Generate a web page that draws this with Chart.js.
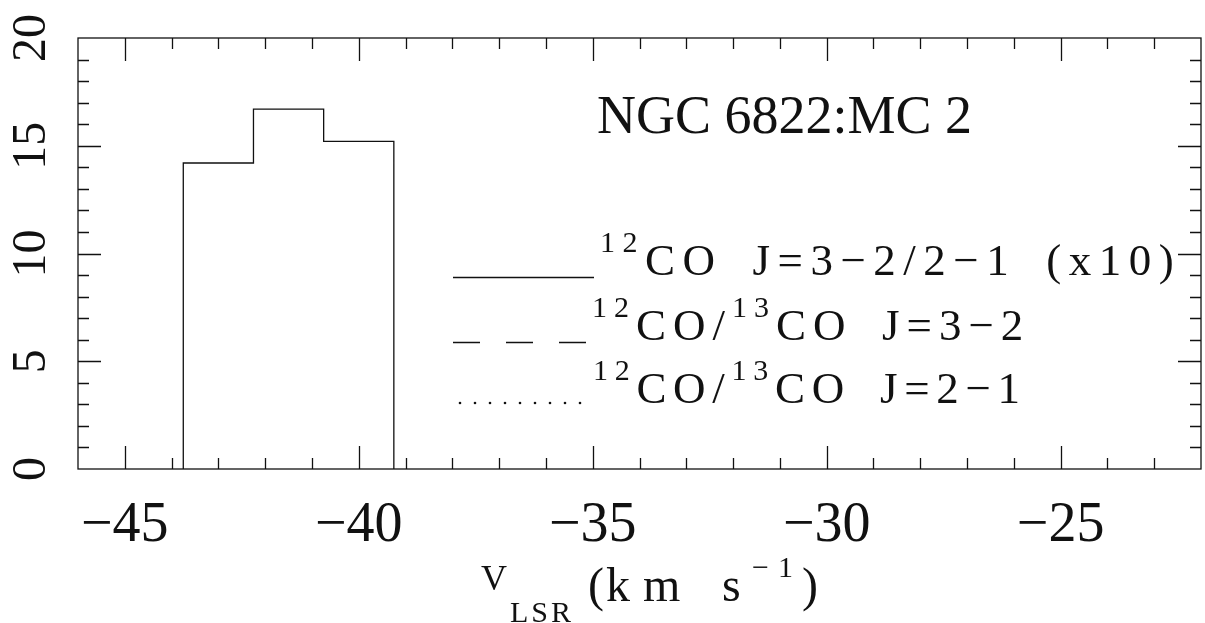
<!DOCTYPE html>
<html>
<head>
<meta charset="utf-8">
<script src="https://cdn.jsdelivr.net/npm/chart.js@4.4.1/dist/chart.umd.min.js"></script>
<style>
html, body { margin: 0; padding: 0; background: #fff; }
#wrap { width: 1205px; height: 623px; position: relative; }
</style>
</head>
<body>
<div id="wrap"><canvas id="grafica"></canvas></div>
<script>
// bordes de los canales (km/s) y cociente 12CO J=3-2/2-1 (x10)
const bordesCanal = [-43.75, -42.25, -40.75, -39.25];
const cociente = [14.2, 16.7, 15.2];

// ejes
const rangoX = [-46, -22];
const rangoY = [0, 20];
const ticksX = [-45, -40, -35, -30, -25];
const ticksY = [0, 5, 10, 15, 20];

const titulo = 'NGC 6822:MC 2';
const fuente = "'Liberation Serif', 'DejaVu Serif', serif";
const ESP = '\u2002'; // espacio ancho como en el original

// armar la linea escalonada a partir de los bordes
function puntosHistograma() {
    const pts = [{ x: bordesCanal[0], y: 0 }];
    for (let i = 0; i < cociente.length; i++) {
        pts.push({ x: bordesCanal[i], y: cociente[i] });
    }
    pts.push({ x: bordesCanal[bordesCanal.length - 1], y: 0 });
    return pts;
}

// texto con super/subindices: partes = [{t, size, dy, x, esp}]
function textoRico(ctx, x, base, partes, espaciado) {
    let cx = x;
    partes.forEach(p => {
        if (p.x !== undefined) cx = p.x;
        ctx.letterSpacing = (p.esp !== undefined ? p.esp : (espaciado || 0)) + 'px';
        ctx.font = p.size + 'px ' + fuente;
        ctx.fillText(p.t, cx, base + (p.dy || 0));
        cx += ctx.measureText(p.t).width;
    });
    ctx.letterSpacing = '0px';
}

const marco = {
    id: 'marco',
    afterDraw(chart) {
        const ctx = chart.ctx;
        const a = chart.chartArea;
        const sx = chart.scales.x, sy = chart.scales.y;
        ctx.save();
        ctx.strokeStyle = '#111';
        ctx.lineWidth = 1.3;
        ctx.strokeRect(a.left, a.top, a.right - a.left, a.bottom - a.top);

        // ticks hacia adentro en los cuatro lados
        ctx.beginPath();
        for (let v = rangoX[0] + 1; v < rangoX[1]; v++) {
            const px = Math.round(sx.getPixelForValue(v)) + 0.5;
            const len = v % 5 === 0 ? 23 : 11;
            ctx.moveTo(px, a.bottom); ctx.lineTo(px, a.bottom - len);
            ctx.moveTo(px, a.top); ctx.lineTo(px, a.top + len);
        }
        for (let v = rangoY[0] + 1; v < rangoY[1]; v++) {
            const py = Math.round(sy.getPixelForValue(v)) + 0.5;
            const len = v % 5 === 0 ? 23 : 11;
            ctx.moveTo(a.left, py); ctx.lineTo(a.left + len, py);
            ctx.moveTo(a.right, py); ctx.lineTo(a.right - len, py);
        }
        ctx.stroke();

        ctx.fillStyle = '#111';
        // etiquetas eje x
        ctx.font = '56px ' + fuente;
        ctx.textAlign = 'center';
        ctx.textBaseline = 'alphabetic';
        ticksX.forEach(v => {
            const txt = (v < 0 ? '\u2212' : '') + Math.abs(v);
            ctx.fillText(txt, sx.getPixelForValue(v), 541);
        });
        // etiquetas eje y (giradas)
        ctx.font = '48px ' + fuente;
        ticksY.forEach(v => {
            ctx.save();
            ctx.translate(45, sy.getPixelForValue(v));
            ctx.rotate(-Math.PI / 2);
            ctx.fillText(String(v), 0, 0);
            ctx.restore();
        });

        ctx.textAlign = 'left';
        // titulo eje x
        textoRico(ctx, 481, 601, [
            { t: 'V', size: 36, dy: -11 },
            { t: 'LSR', size: 30, dy: 21, x: 510 }
        ], 3);
        textoRico(ctx, 0, 601, [
            { t: '(', size: 48, x: 588 },
            { t: 'km', size: 48, x: 606, esp: 13 },
            { t: 's', size: 48, x: 722 },
            { t: '\u22121', size: 30, dy: -24, x: 752 },
            { t: ')', size: 48, x: 802 }
        ], 9);

        // nombre de la fuente
        ctx.font = '54px ' + fuente;
        ctx.fillText(titulo, 597, 133);

        // leyenda
        ctx.lineWidth = 1.3;
        ctx.beginPath();
        ctx.moveTo(453, 277.5); ctx.lineTo(594, 277.5);
        ctx.stroke();
        textoRico(ctx, 600, 275, [
            { t: '12', size: 30, dy: -23 },
            { t: 'CO' + ESP + 'J=3\u22122/2\u22121' + ESP + '(x10)', size: 45 }
        ], 7.5);

        ctx.beginPath();
        ctx.setLineDash([27, 26]);
        ctx.moveTo(453, 342.5); ctx.lineTo(586, 342.5);
        ctx.stroke();
        ctx.setLineDash([]);
        textoRico(ctx, 592, 340, [
            { t: '12', size: 30, dy: -23 },
            { t: 'CO/', size: 45 },
            { t: '13', size: 30, dy: -23 },
            { t: 'CO' + ESP + 'J=3\u22122', size: 45 }
        ], 7);

        for (let i = 0; i < 9; i++) {
            ctx.beginPath();
            ctx.arc(460 + i * 15, 403, 1.3, 0, Math.PI * 2);
            ctx.fill();
        }
        textoRico(ctx, 593, 403, [
            { t: '12', size: 30, dy: -23 },
            { t: 'CO/', size: 45 },
            { t: '13', size: 30, dy: -23 },
            { t: 'CO' + ESP + 'J=2\u22121', size: 45 }
        ], 6.7);
        ctx.restore();
    }
};

new Chart(document.getElementById('grafica').getContext('2d'), {
    type: 'scatter',
    data: {
        datasets: [{
            label: 'cociente',
            data: puntosHistograma(),
            showLine: true,
            stepped: 'before',
            borderColor: '#111',
            borderWidth: 1.3,
            pointRadius: 0,
            fill: false
        }]
    },
    options: {
        responsive: true,
        maintainAspectRatio: false,
        animation: false,
        layout: { padding: { left: 78, top: 38, right: 4, bottom: 154 } },
        scales: {
            x: { type: 'linear', min: rangoX[0], max: rangoX[1], display: false },
            y: { type: 'linear', min: rangoY[0], max: rangoY[1], display: false }
        },
        plugins: { legend: { display: false }, tooltip: { enabled: false } }
    },
    plugins: [marco]
});
</script>
</body>
</html>
